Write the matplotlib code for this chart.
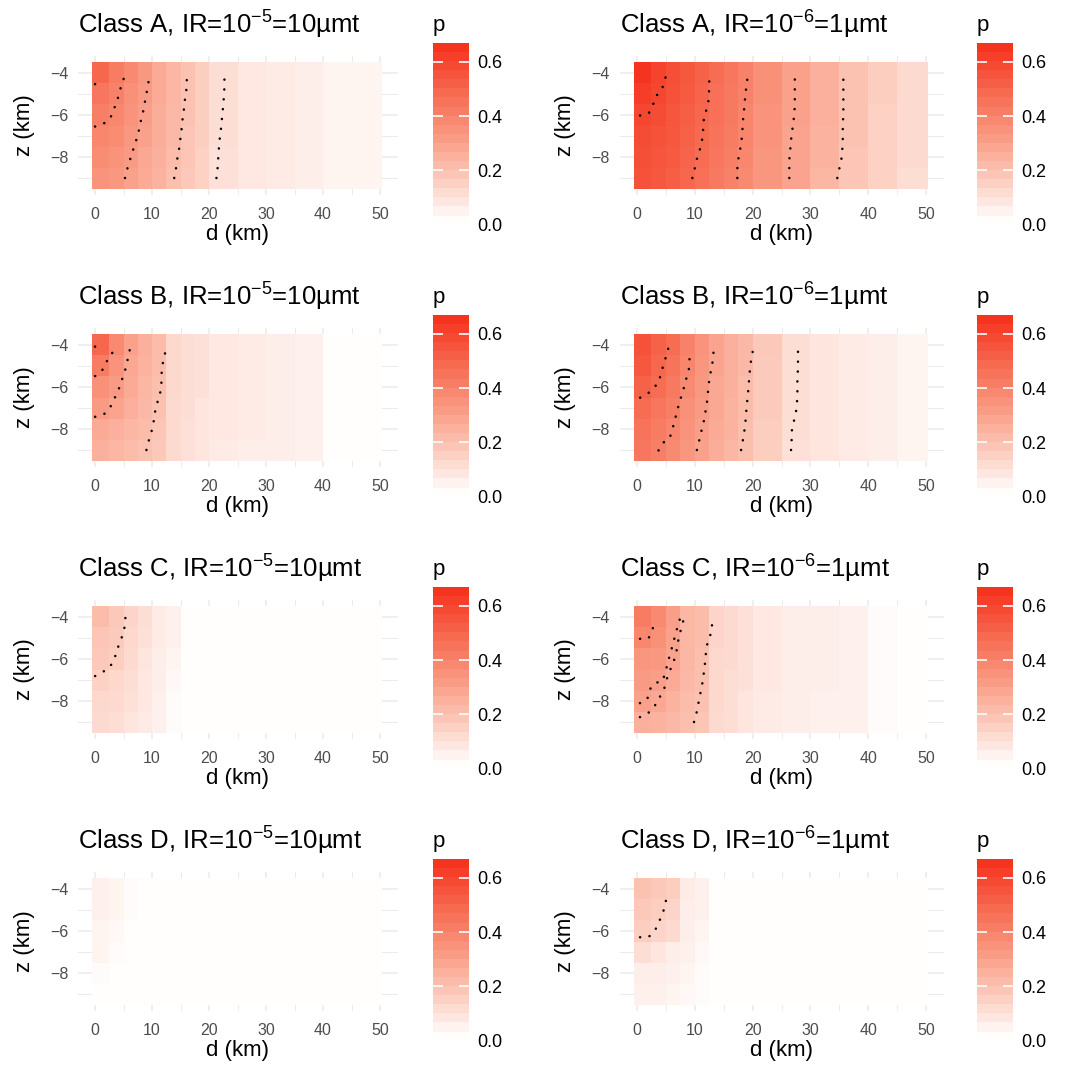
import matplotlib.pyplot as plt
import numpy as np
from matplotlib.colors import LinearSegmentedColormap, Normalize
from matplotlib.cm import ScalarMappable

plt.rcParams['font.family'] = ['Liberation Sans', 'DejaVu Sans']
plt.rcParams['mathtext.fontset'] = 'custom'
plt.rcParams['mathtext.rm'] = 'Liberation Sans'
plt.rcParams['mathtext.it'] = 'Liberation Sans:italic'
plt.rcParams['mathtext.bf'] = 'Liberation Sans:bold'

# tile edges (km); rows run from z=-4 (top) down to z=-9
d_edges = [-0.6, 2.5, 5, 7.5, 10, 12.5, 15, 17.5, 20, 25, 30, 35, 40, 45, 50.4]
z_edges = [-3.5, -4.5, -5.5, -6.5, -7.5, -8.5, -9.5]

# probability p per tile, one list per depth row (z = -4 ... -9)
p_A_1e5 = [
    [0.50, 0.43, 0.38, 0.33, 0.27, 0.23, 0.19, 0.15, 0.10, 0.07, 0.06, 0.05, 0.03, 0.03],
    [0.45, 0.41, 0.36, 0.32, 0.27, 0.23, 0.19, 0.15, 0.10, 0.07, 0.06, 0.05, 0.03, 0.03],
    [0.42, 0.39, 0.35, 0.31, 0.26, 0.22, 0.19, 0.15, 0.10, 0.07, 0.06, 0.05, 0.03, 0.03],
    [0.39, 0.37, 0.33, 0.30, 0.26, 0.22, 0.18, 0.15, 0.10, 0.07, 0.06, 0.05, 0.03, 0.03],
    [0.37, 0.35, 0.32, 0.28, 0.25, 0.21, 0.18, 0.14, 0.09, 0.07, 0.06, 0.05, 0.03, 0.03],
    [0.35, 0.33, 0.30, 0.27, 0.24, 0.20, 0.17, 0.14, 0.09, 0.07, 0.06, 0.05, 0.03, 0.03],
]
p_A_1e6 = [
    [0.67, 0.62, 0.58, 0.55, 0.52, 0.48, 0.45, 0.41, 0.36, 0.30, 0.25, 0.19, 0.15, 0.11],
    [0.64, 0.61, 0.57, 0.54, 0.51, 0.47, 0.44, 0.41, 0.36, 0.30, 0.25, 0.19, 0.15, 0.11],
    [0.61, 0.59, 0.56, 0.53, 0.50, 0.47, 0.44, 0.40, 0.35, 0.30, 0.25, 0.19, 0.14, 0.11],
    [0.59, 0.57, 0.55, 0.52, 0.49, 0.46, 0.43, 0.40, 0.35, 0.29, 0.24, 0.19, 0.14, 0.11],
    [0.58, 0.56, 0.54, 0.51, 0.48, 0.45, 0.42, 0.39, 0.34, 0.29, 0.24, 0.18, 0.14, 0.11],
    [0.57, 0.55, 0.53, 0.50, 0.47, 0.44, 0.41, 0.38, 0.34, 0.29, 0.23, 0.18, 0.14, 0.10],
]
p_B_1e5 = [
    [0.50, 0.38, 0.30, 0.25, 0.21, 0.12, 0.10, 0.09, 0.07, 0.06, 0.05, 0.04, 0.00, 0.00],
    [0.43, 0.35, 0.28, 0.24, 0.21, 0.12, 0.10, 0.09, 0.07, 0.06, 0.05, 0.04, 0.00, 0.00],
    [0.36, 0.32, 0.27, 0.23, 0.20, 0.12, 0.10, 0.09, 0.07, 0.06, 0.05, 0.04, 0.00, 0.00],
    [0.32, 0.29, 0.25, 0.22, 0.19, 0.11, 0.10, 0.08, 0.07, 0.06, 0.05, 0.04, 0.00, 0.00],
    [0.27, 0.25, 0.23, 0.21, 0.18, 0.11, 0.09, 0.08, 0.07, 0.06, 0.05, 0.04, 0.00, 0.00],
    [0.25, 0.23, 0.21, 0.19, 0.17, 0.11, 0.09, 0.08, 0.06, 0.05, 0.05, 0.04, 0.00, 0.00],
]
p_B_1e6 = [
    [0.57, 0.52, 0.48, 0.41, 0.35, 0.29, 0.25, 0.22, 0.17, 0.10, 0.08, 0.06, 0.05, 0.03],
    [0.55, 0.50, 0.46, 0.40, 0.34, 0.29, 0.25, 0.22, 0.16, 0.10, 0.08, 0.06, 0.05, 0.03],
    [0.52, 0.48, 0.44, 0.38, 0.33, 0.28, 0.25, 0.21, 0.16, 0.10, 0.08, 0.06, 0.05, 0.03],
    [0.48, 0.45, 0.42, 0.36, 0.32, 0.28, 0.24, 0.21, 0.16, 0.10, 0.08, 0.06, 0.05, 0.03],
    [0.46, 0.43, 0.40, 0.35, 0.31, 0.27, 0.24, 0.20, 0.15, 0.10, 0.08, 0.06, 0.05, 0.03],
    [0.45, 0.42, 0.38, 0.34, 0.30, 0.26, 0.23, 0.20, 0.15, 0.09, 0.08, 0.06, 0.05, 0.03],
]
p_C_1e5 = [
    [0.21, 0.17, 0.13, 0.10, 0.06, 0.04, 0.00, 0.00, 0.00, 0.00, 0.00, 0.00, 0.00, 0.00],
    [0.18, 0.16, 0.12, 0.09, 0.06, 0.04, 0.00, 0.00, 0.00, 0.00, 0.00, 0.00, 0.00, 0.00],
    [0.17, 0.15, 0.11, 0.08, 0.05, 0.03, 0.00, 0.00, 0.00, 0.00, 0.00, 0.00, 0.00, 0.00],
    [0.14, 0.12, 0.10, 0.07, 0.05, 0.02, 0.00, 0.00, 0.00, 0.00, 0.00, 0.00, 0.00, 0.00],
    [0.12, 0.11, 0.09, 0.07, 0.04, 0.01, 0.00, 0.00, 0.00, 0.00, 0.00, 0.00, 0.00, 0.00],
    [0.11, 0.10, 0.08, 0.06, 0.04, 0.01, 0.00, 0.00, 0.00, 0.00, 0.00, 0.00, 0.00, 0.00],
]
p_C_1e6 = [
    [0.43, 0.38, 0.31, 0.23, 0.21, 0.13, 0.11, 0.09, 0.07, 0.05, 0.05, 0.04, 0.01, 0.00],
    [0.39, 0.36, 0.30, 0.23, 0.21, 0.13, 0.11, 0.09, 0.07, 0.05, 0.05, 0.04, 0.01, 0.00],
    [0.34, 0.33, 0.29, 0.23, 0.20, 0.12, 0.11, 0.09, 0.07, 0.05, 0.05, 0.04, 0.01, 0.00],
    [0.32, 0.31, 0.27, 0.22, 0.20, 0.12, 0.10, 0.09, 0.07, 0.05, 0.05, 0.04, 0.01, 0.00],
    [0.30, 0.28, 0.24, 0.21, 0.19, 0.12, 0.10, 0.08, 0.06, 0.05, 0.04, 0.04, 0.01, 0.00],
    [0.25, 0.24, 0.22, 0.20, 0.18, 0.11, 0.10, 0.08, 0.06, 0.05, 0.04, 0.04, 0.01, 0.00],
]
p_D_1e5 = [
    [0.04, 0.03, 0.01, 0.00, 0.00, 0.00, 0.00, 0.00, 0.00, 0.00, 0.00, 0.00, 0.00, 0.00],
    [0.04, 0.03, 0.01, 0.00, 0.00, 0.00, 0.00, 0.00, 0.00, 0.00, 0.00, 0.00, 0.00, 0.00],
    [0.03, 0.02, 0.00, 0.00, 0.00, 0.00, 0.00, 0.00, 0.00, 0.00, 0.00, 0.00, 0.00, 0.00],
    [0.03, 0.01, 0.00, 0.00, 0.00, 0.00, 0.00, 0.00, 0.00, 0.00, 0.00, 0.00, 0.00, 0.00],
    [0.01, 0.00, 0.00, 0.00, 0.00, 0.00, 0.00, 0.00, 0.00, 0.00, 0.00, 0.00, 0.00, 0.00],
    [0.00, 0.00, 0.00, 0.00, 0.00, 0.00, 0.00, 0.00, 0.00, 0.00, 0.00, 0.00, 0.00, 0.00],
]
p_D_1e6 = [
    [0.19, 0.17, 0.15, 0.06, 0.04, 0.00, 0.00, 0.00, 0.00, 0.00, 0.00, 0.00, 0.00, 0.00],
    [0.17, 0.15, 0.13, 0.05, 0.04, 0.00, 0.00, 0.00, 0.00, 0.00, 0.00, 0.00, 0.00, 0.00],
    [0.15, 0.13, 0.11, 0.05, 0.03, 0.00, 0.00, 0.00, 0.00, 0.00, 0.00, 0.00, 0.00, 0.00],
    [0.10, 0.08, 0.05, 0.04, 0.02, 0.00, 0.00, 0.00, 0.00, 0.00, 0.00, 0.00, 0.00, 0.00],
    [0.05, 0.05, 0.04, 0.03, 0.01, 0.00, 0.00, 0.00, 0.00, 0.00, 0.00, 0.00, 0.00, 0.00],
    [0.04, 0.04, 0.03, 0.02, 0.01, 0.00, 0.00, 0.00, 0.00, 0.00, 0.00, 0.00, 0.00, 0.00],
]

# dotted iso-p lines, as (d, z) pairs
z12 = [-8.98, -8.54, -8.12, -7.71, -7.29, -6.87, -6.43, -6.02, -5.58, -5.15, -4.71, -4.28]
lines_A_1e5 = [
    ([0.0, 1.2], [-4.55, -4.3]),
    ([0.0, 1.46, 2.63, 3.22, 3.8, 4.27, 4.68, 5.26], [-6.55, -6.42, -6.19, -5.79, -5.4, -4.97, -4.53, -4.14]),
    ([5.26, 5.67, 6.14, 6.61, 7.13, 7.6, 7.89, 8.3, 8.65, 8.89, 9.24, 9.47], z12),
    ([13.9, 14.2, 14.4, 14.7, 14.9, 15.1, 15.3, 15.4, 15.7, 15.8, 16.1, 16.1], z12),
    ([21.3, 21.5, 21.6, 21.7, 21.8, 22.0, 22.2, 22.3, 22.5, 22.6, 22.7, 22.7], z12),
]
lines_A_1e6 = [
    ([0.52, 1.96, 2.71, 3.11, 4.1, 4.67, 5.02], [-6.03, -5.95, -5.6, -5.16, -4.88, -4.53, -4.14]),
    ([9.57, 9.98, 10.3, 10.8, 11.2, 11.4, 11.5, 11.6, 12.3, 12.4, 12.5, 12.5], z12),
    ([17.36, 17.36, 17.5, 17.8, 18.05, 18.2, 18.3, 18.4, 18.6, 18.7, 18.9, 19.1], z12),
    ([26.35, 26.35, 26.35, 26.5, 26.6, 26.8, 27.0, 27.2, 27.3, 27.3, 27.3, 27.3], z12),
    ([34.65, 35.0, 35.35, 35.5, 35.6, 35.6, 35.6, 35.7, 35.7, 35.7, 35.7, 35.7], z12),
]
lines_B_1e5 = [
    ([0.0, 0.2], [-4.1, -4.05]),
    ([0.02, 1.19, 1.77, 2.77, 3.35], [-5.49, -5.27, -4.88, -4.57, -4.16]),
    ([0.02, 1.54, 2.65, 3.35, 4.05, 4.55, 5.1, 5.55, 5.85, 6.25], [-7.41, -7.3, -6.97, -6.58, -6.2, -5.79, -5.38, -4.96, -4.52, -4.09]),
    ([9.02, 9.43, 9.9, 10.25, 10.45, 10.78, 11.3, 11.65, 11.65, 11.72, 12.01, 12.42], z12),
]
lines_B_1e6 = [
    ([0.54, 1.82, 2.85, 3.72, 4.12, 4.58, 5.04, 5.45], [-6.51, -6.33, -6.04, -5.81, -5.38, -4.96, -4.55, -4.14]),
    ([3.72, 4.47, 5.62, 6.08, 6.49, 6.89, 7.29, 7.75, 8.22, 8.62, 9.02, 9.08, 9.08], [-9.0, -8.64, -8.45, -8.03, -7.62, -7.19, -6.77, -6.37, -5.93, -5.51, -5.1, -4.68, -4.24]),
    ([10.35, 10.75, 11.1, 11.5, 11.75, 12.05, 12.2, 12.35, 12.55, 12.85, 13.15, 13.25], z12),
    ([18.0, 18.3, 18.55, 18.75, 18.85, 19.0, 19.15, 19.3, 19.4, 19.55, 19.75, 20.05], z12),
    ([26.65, 26.75, 26.75, 27.05, 27.45, 27.65, 27.75, 27.75, 27.75, 27.85, 27.85, 27.85], z12),
]
lines_C_1e5 = [
    ([0.02, 1.3, 2.47, 3.23, 3.75, 4.23, 4.81, 5.22, 5.34], [-6.81, -6.63, -6.42, -6.12, -5.71, -5.29, -4.9, -4.47, -4.03]),
]
lines_C_1e6 = [
    ([0.52, 1.96, 2.54, 3.11], [-5.05, -5.05, -4.69, -4.27]),
    ([0.5, 1.77, 2.1, 3.0, 4.4, 4.9, 5.3, 5.7, 6.15, 6.55, 6.96, 7.4], [-8.09, -7.92, -7.49, -7.14, -7.06, -6.63, -6.2, -5.79, -5.37, -4.94, -4.53, -4.13]),
    ([0.5, 2.1, 3.1, 3.85, 4.65, 5.1, 5.57, 6.26, 6.72, 7.0, 7.24, 7.7, 8.1], [-8.75, -8.52, -8.2, -7.84, -7.46, -6.99, -6.62, -6.19, -5.79, -5.36, -4.94, -4.53, -4.09]),
    ([9.86, 10.3, 10.6, 10.9, 11.2, 11.5, 11.6, 11.9, 11.9, 12.3, 12.9, 13.0], z12),
]
lines_D_1e5 = []
lines_D_1e6 = [
    ([0.52, 1.96, 3.11, 3.69, 4.38, 4.84, 5.13], [-6.3, -6.3, -5.98, -5.62, -5.23, -4.8, -4.38]),
]

titles = [
    'Class A, IR=10$^{-5}$=10µmt', 'Class A, IR=10$^{-6}$=1µmt',
    'Class B, IR=10$^{-5}$=10µmt', 'Class B, IR=10$^{-6}$=1µmt',
    'Class C, IR=10$^{-5}$=10µmt', 'Class C, IR=10$^{-6}$=1µmt',
    'Class D, IR=10$^{-5}$=10µmt', 'Class D, IR=10$^{-6}$=1µmt',
]
grids = [p_A_1e5, p_A_1e6, p_B_1e5, p_B_1e6, p_C_1e5, p_C_1e6, p_D_1e5, p_D_1e6]
iso_lines = [lines_A_1e5, lines_A_1e6, lines_B_1e5, lines_B_1e6,
             lines_C_1e5, lines_C_1e6, lines_D_1e5, lines_D_1e6]

p_max = 0.67
cmap = LinearSegmentedColormap.from_list(
    'p', [(0.0, '#FFFEFD'), (0.25, '#FCC8B9'), (0.5, '#F9977F'),
          (0.75, '#F6674D'), (1.0, '#F5341F')])
norm = Normalize(0, p_max)

W = H = 1072
fig = plt.figure(figsize=(W / 100, H / 100), dpi=100)

for i in range(8):
    row, col = divmod(i, 2)
    off = 272 * row
    if col == 0:
        x0, x1, cx0 = 77.9, 397.7, 433
    else:
        x0, x1, cx0 = 619.7, 943.9, 977
    y0, y1 = 55.6 + off, 195.4 + off
    ax = fig.add_axes([x0 / W, 1 - y1 / H, (x1 - x0) / W, (y1 - y0) / H])

    ax.pcolormesh(d_edges, z_edges, np.array(grids[i]), cmap=cmap, norm=norm,
                  shading='flat', zorder=1)
    for d, z in iso_lines[i]:
        ax.plot(d, z, color='black', lw=1.8, linestyle=(0, (0.05, 3.9)),
                dash_capstyle='round', zorder=3)

    ax.set_xlim(-3.0, 53.1)
    ax.set_ylim(-9.8, -3.2)
    ax.set_xticks([0, 10, 20, 30, 40, 50])
    ax.set_xticks([5, 15, 25, 35, 45], minor=True)
    ax.set_yticks([-8, -6, -4])
    ax.set_yticks([-9, -7, -5], minor=True)
    ax.set_axisbelow(True)
    ax.grid(True, which='major', color='#EBEBEB', lw=1.1)
    ax.grid(True, which='minor', color='#EBEBEB', lw=0.7)
    ax.tick_params(which='both', length=0, labelsize=11.5, labelcolor='#4D4D4D')
    ax.tick_params(axis='x', pad=8)
    ax.tick_params(axis='y', pad=7)
    for s in ax.spines.values():
        s.set_visible(False)
    ax.set_xlabel('d (km)', fontsize=16, labelpad=2)
    ax.set_ylabel('z (km)', fontsize=16, labelpad=11)
    ax.set_title(titles[i], loc='left', fontsize=18.5, pad=16)

    # legend bar
    cax = fig.add_axes([cx0 / W, 1 - (224.6 + off) / H, 36 / W, 181.6 / H])
    cb = fig.colorbar(ScalarMappable(norm=norm, cmap=cmap.resampled(20)), cax=cax)
    cb.outline.set_visible(False)
    cb.set_ticks([0.0, 0.2, 0.4, 0.6])
    cb.set_ticklabels(['0.0', '0.2', '0.4', '0.6'])
    cax.tick_params(length=7, width=1.2, color='white', direction='in',
                    left=True, right=True, labelsize=13, pad=6)
    fig.text(cx0 / W, 1 - (31 + off) / H, 'p', fontsize=16, va='baseline', ha='left')

fig.savefig('out.png', dpi=100)
